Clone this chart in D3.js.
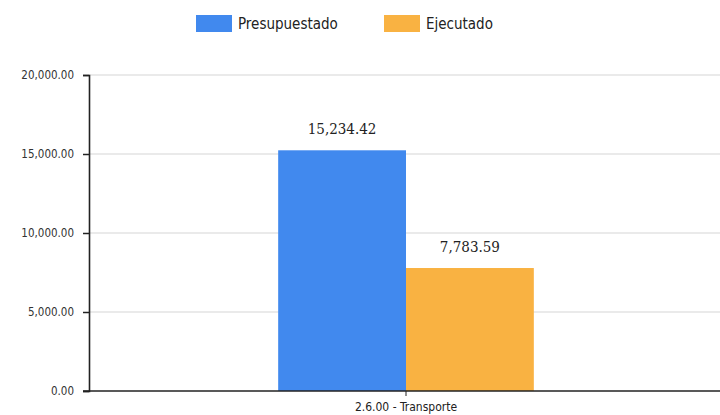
<!DOCTYPE html>
<head>
  <meta charset="utf-8">
  <script src="https://d3js.org/d3.v7.min.js"></script>
  <style>
    body { margin: 0; background: #fff; }
    .tick text { font-family: "DejaVu Sans Condensed", "Open Sans", sans-serif; font-size: 11.5px; fill: #333; }
    .legend text { font-family: "DejaVu Sans Condensed", sans-serif; font-size: 15px; fill: #222; }
    .value { font-family: "DejaVu Serif Condensed", "Liberation Serif", serif; font-size: 15px; fill: #222; }
    .grid line { stroke: #e3e3e3; stroke-width: 1.5; }
  </style>
</head>
<body>
  <div id="vis"></div>
  <script>
    var categories = ["2.6.00 -  Transporte"];
    var seriesNames = ["Presupuestado", "Ejecutado"];
    var seriesColors = ["#4189ee", "#f9b242"];
    var presupuestado = [15234.42];
    var ejecutado = [7783.59];
    var yTicks = [0, 5000, 10000, 15000, 20000];

    var width = 720, height = 415;
    var margin = { top: 75, right: 0, bottom: 24, left: 89 };

    var svg = d3.select("#vis").append("svg")
      .attr("width", width).attr("height", height);

    var y = d3.scaleLinear().domain([0, 20000]).range([height - margin.bottom, margin.top]);
    var x0 = d3.scaleBand().domain(categories).range([margin.left, 723]).paddingInner(0).paddingOuter(0.74);
    var x1 = d3.scaleBand().domain(seriesNames).range([0, x0.bandwidth()]);

    var fmt = d3.format(",.2f");

    // grid
    svg.append("g").attr("class", "grid")
      .selectAll("line").data(yTicks.slice(1)).enter().append("line")
      .attr("x1", margin.left).attr("x2", width)
      .attr("y1", function (d) { return y(d); }).attr("y2", function (d) { return y(d); });

    var data = categories.map(function (c, i) {
      return { cat: c, values: [presupuestado[i], ejecutado[i]] };
    });

    var groups = svg.append("g").selectAll("g").data(data).enter().append("g")
      .attr("transform", function (d) { return "translate(" + x0(d.cat) + ",0)"; });

    groups.selectAll("rect").data(function (d) { return d.values; }).enter().append("rect")
      .attr("x", function (d, i) { return x1(seriesNames[i]); })
      .attr("width", x1.bandwidth())
      .attr("y", function (d) { return y(d); })
      .attr("height", function (d) { return y(0) - y(d); })
      .attr("fill", function (d, i) { return seriesColors[i]; });

    groups.selectAll("text.value").data(function (d) { return d.values; }).enter().append("text")
      .attr("class", "value")
      .attr("text-anchor", "middle")
      .attr("x", function (d, i) { return x1(seriesNames[i]) + x1.bandwidth() / 2; })
      .attr("y", function (d) { return y(d) - 16; })
      .text(function (d) { return fmt(d); });

    // y axis
    var yAxis = svg.append("g")
      .attr("transform", "translate(" + margin.left + ",0)")
      .call(d3.axisLeft(y).tickValues(yTicks).tickFormat(fmt).tickSize(6).tickPadding(9));
    yAxis.select(".domain").attr("stroke", "#222").attr("stroke-width", 1.6);
    yAxis.selectAll(".tick line").attr("stroke", "#222").attr("stroke-width", 1.5);

    // x axis
    var xAxis = svg.append("g")
      .attr("transform", "translate(0," + y(0) + ")");
    xAxis.append("line").attr("x1", margin.left - 6).attr("x2", width)
      .attr("stroke", "#222").attr("stroke-width", 1.6);
    xAxis.selectAll("line.tk").data(categories).enter().append("line")
      .attr("class", "tk")
      .attr("x1", function (d) { return x0(d) + x0.bandwidth() / 2; })
      .attr("x2", function (d) { return x0(d) + x0.bandwidth() / 2; })
      .attr("y1", 0).attr("y2", 5).attr("stroke", "#222");
    xAxis.selectAll("text").data(categories).enter().append("text")
      .attr("x", function (d) { return x0(d) + x0.bandwidth() / 2; })
      .attr("y", 20)
      .attr("text-anchor", "middle")
      .style("font-family", "'DejaVu Sans Condensed', sans-serif")
      .style("font-size", "12px")
      .attr("fill", "#222")
      .text(function (d) { return d; });

    // legend
    var legend = svg.append("g").attr("class", "legend");
    var legendX = [196, 384];
    seriesNames.forEach(function (name, i) {
      var g = legend.append("g").attr("transform", "translate(" + legendX[i] + ",15)");
      g.append("rect").attr("width", 36).attr("height", 17).attr("fill", seriesColors[i]);
      g.append("text").attr("x", 42).attr("y", 14).text(name);
    });
  </script>
</body>
